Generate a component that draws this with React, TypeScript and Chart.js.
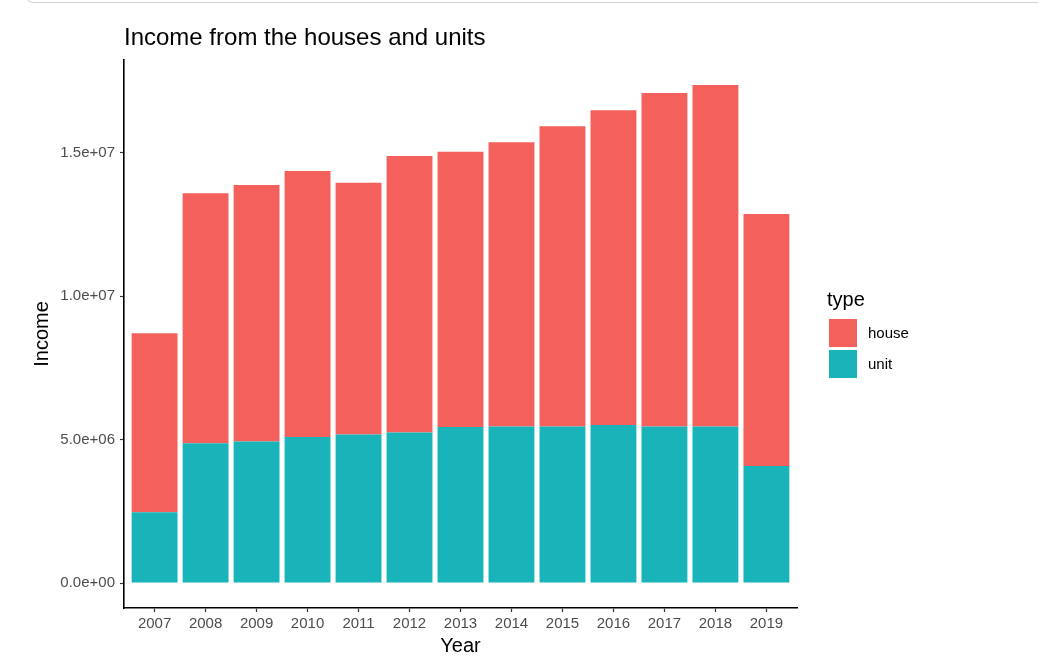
import React, { useEffect, useRef } from "react";
import { Chart, registerables } from "chart.js";

Chart.register(...registerables);

// ---- data ----
const years: number[] = [2007, 2008, 2009, 2010, 2011, 2012, 2013, 2014, 2015, 2016, 2017, 2018, 2019];
const houseIncome: number[] = [
  6.24e6, 8.71e6, 8.94e6, 9.28e6, 8.78e6, 9.64e6, 9.6e6, 9.91e6, 10.47e6, 10.98e6, 11.63e6, 11.91e6, 8.79e6,
];
const unitIncome: number[] = [
  2.47e6, 4.88e6, 4.94e6, 5.09e6, 5.18e6, 5.25e6, 5.44e6, 5.46e6, 5.46e6, 5.51e6, 5.46e6, 5.46e6, 4.08e6,
];
const yTickValues: number[] = [0, 5e6, 1e7, 1.5e7];
const yTickLabels: string[] = ["0.0e+00", "5.0e+06", "1.0e+07", "1.5e+07"];
const seriesNames: string[] = ["house", "unit"];
const seriesColors: string[] = ["#F4605B", "#19B4B9"];
const chartTitle = "Income from the houses and units";
const xTitle = "Year";
const yTitle = "Income";
const legendTitle = "type";

const FONT = "'Liberation Sans', Arial, Helvetica, sans-serif";

const annotationPlugin = {
  id: "annotationPlugin",
  afterDraw(chart: any) {
    const ctx: CanvasRenderingContext2D = chart.ctx;
    const a = chart.chartArea;
    ctx.save();
    ctx.fillStyle = "#000000";
    ctx.textAlign = "left";
    ctx.textBaseline = "alphabetic";
    ctx.font = `24px ${FONT}`;
    ctx.fillText(chartTitle, a.left, 45);

    ctx.font = `20px ${FONT}`;
    ctx.textAlign = "center";
    ctx.fillText(xTitle, (a.left + a.right) / 2, 652);

    ctx.save();
    ctx.translate(48, (a.top + a.bottom) / 2);
    ctx.rotate(-Math.PI / 2);
    ctx.fillText(yTitle, 0, 0);
    ctx.restore();

    // legend
    ctx.textAlign = "left";
    ctx.font = `20px ${FONT}`;
    ctx.fillText(legendTitle, 827, 306);
    const keyX = 829;
    const keyTops = [319, 350];
    const keySize = 28;
    ctx.font = `15px ${FONT}`;
    ctx.textBaseline = "middle";
    seriesNames.forEach((name, i) => {
      ctx.fillStyle = seriesColors[i];
      ctx.fillRect(keyX, keyTops[i], keySize, keySize);
      ctx.fillStyle = "#000000";
      ctx.fillText(name, 868, keyTops[i] + keySize / 2 + 1);
    });
    ctx.restore();
  },
};

export default function App() {
  const canvasRef = useRef<HTMLCanvasElement | null>(null);

  useEffect(() => {
    const canvas = canvasRef.current;
    if (!canvas) return;
    const totals = years.map((_, i) => houseIncome[i] + unitIncome[i]);
    const maxTotal = Math.max(...totals);
    const yMin = -0.05 * maxTotal;
    const yMax = 1.05 * maxTotal;

    const chart = new Chart(canvas, {
      type: "bar",
      data: {
        datasets: [
          {
            label: seriesNames[1],
            data: years.map((y, i) => ({ x: y, y: unitIncome[i] })),
            backgroundColor: seriesColors[1],
            borderWidth: 0,
            barPercentage: 0.9,
            categoryPercentage: 1,
          },
          {
            label: seriesNames[0],
            data: years.map((y, i) => ({ x: y, y: houseIncome[i] })),
            backgroundColor: seriesColors[0],
            borderWidth: 0,
            barPercentage: 0.9,
            categoryPercentage: 1,
          },
        ],
      },
      options: {
        animation: false,
        responsive: false,
        devicePixelRatio: window.devicePixelRatio || 1,
        layout: { padding: { left: 0, top: 60, right: 241, bottom: 0 } },
        plugins: {
          legend: { display: false },
          title: { display: false },
          tooltip: { enabled: false },
        },
        scales: {
          x: {
            type: "linear",
            stacked: true,
            offset: false,
            min: years[0] - 0.6,
            max: years[years.length - 1] + 0.6,
            afterBuildTicks: (scale: any) => {
              scale.ticks = years.map((v) => ({ value: v }));
            },
            afterFit: (scale: any) => {
              scale.height = 49;
            },
            ticks: {
              autoSkip: false,
              maxRotation: 0,
              padding: 3,
              color: "#4D4D4D",
              font: { family: FONT, size: 15 },
              callback: (v: any) => String(v),
            },
            grid: {
              display: true,
              offset: false,
              drawOnChartArea: false,
              drawTicks: true,
              tickLength: 4,
              tickColor: "#333333",
              tickWidth: 1.2,
            },
            border: { display: true, color: "#000000", width: 1.6 },
          },
          y: {
            type: "linear",
            stacked: true,
            min: yMin,
            max: yMax,
            afterBuildTicks: (scale: any) => {
              scale.ticks = yTickValues.map((v) => ({ value: v }));
            },
            afterFit: (scale: any) => {
              scale.width = 124;
            },
            ticks: {
              autoSkip: false,
              padding: 5,
              color: "#4D4D4D",
              font: { family: FONT, size: 15 },
              callback: (v: any) => {
                const idx = yTickValues.indexOf(Number(v));
                return idx >= 0 ? yTickLabels[idx] : "";
              },
            },
            grid: {
              display: true,
              drawOnChartArea: false,
              drawTicks: true,
              tickLength: 4,
              tickColor: "#333333",
              tickWidth: 1.2,
            },
            border: { display: true, color: "#000000", width: 1.6 },
          },
        },
      } as any,
      plugins: [annotationPlugin],
    });
    return () => chart.destroy();
  }, []);

  return (
    <div style={{ position: "absolute", left: 0, top: 0, width: 1038, height: 657, background: "#ffffff", overflow: "hidden" }}>
      <div
        style={{
          position: "absolute",
          left: 25,
          top: -30,
          width: 1100,
          height: 33,
          border: "1.5px solid #d2d2d2",
          borderRadius: 8,
          boxSizing: "border-box",
        }}
      />
      <canvas ref={canvasRef} width={1038} height={657} style={{ position: "absolute", left: 0, top: 0, width: 1038, height: 657 }} />
    </div>
  );
}
